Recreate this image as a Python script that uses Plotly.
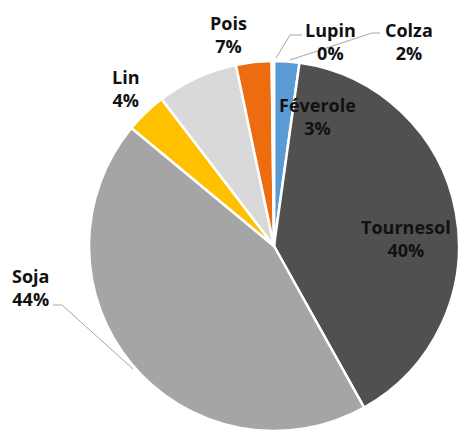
import plotly.graph_objects as go

W, H = 464, 432

labels = ["Colza", "Tournesol", "Soja", "Lin", "Pois", "Féverole", "Lupin"]
values = [2.2, 39.7, 44.1, 3.6, 7.1, 3.1, 0.2]
colors = ["#5B9BD5", "#505050", "#A5A5A5", "#FFC000", "#D9D9D9", "#EC6C0F", "#264478"]

# label positions in pixels (centre of the two-line label)
label_pos = {
    "Colza": (409, 41),
    "Tournesol": (406, 238),
    "Soja": (31, 287),
    "Lin": (126, 88),
    "Pois": (228, 35),
    "Féverole": (317, 116),
    "Lupin": (330, 41),
}

total = sum(values)
fig = go.Figure()
fig.add_trace(go.Pie(
    labels=labels, values=values, sort=False, direction="clockwise", rotation=0,
    marker=dict(colors=colors, line=dict(color="white", width=2.5)),
    textinfo="none", hoverinfo="label+percent", showlegend=False,
    domain=dict(x=[(274 - 185) / W, (274 + 185) / W], y=[1 / H, 371 / H]),
))

anns = []
for lab, v in zip(labels, values):
    px, py = label_pos[lab]
    pct = round(100 * v / total)
    anns.append(dict(
        x=px / W, y=1 - py / H, xref="paper", yref="paper",
        text=f"<b>{lab}<br>{pct}%</b>", showarrow=False,
        font=dict(family="Open Sans", size=18, color="#111111"),
        xanchor="center", yanchor="middle", align="center",
    ))

def path(pts):
    return "M " + " L ".join(f"{x / W},{1 - y / H}" for x, y in pts)

leaders = [
    [(302, 35), (290, 35), (276, 58)],
    [(380, 33), (372, 33), (290, 60)],
    [(53, 305), (62, 305), (133, 369)],
]
shapes = [dict(type="path", xref="paper", yref="paper", path=path(p),
               line=dict(color="#A6A6A6", width=1)) for p in leaders]

fig.update_layout(
    width=W, height=H, margin=dict(l=0, r=0, t=0, b=0),
    paper_bgcolor="white", plot_bgcolor="white",
    annotations=anns, shapes=shapes,
)
fig.write_html("out.html", config={"displayModeBar": False},
               post_script="document.body.style.margin='0';")
